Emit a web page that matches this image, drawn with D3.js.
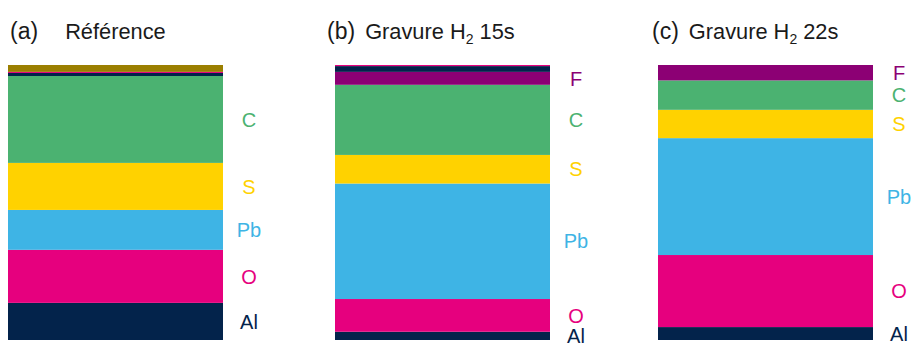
<!DOCTYPE html>
<html>
<head>
<meta charset="utf-8">
<script src="https://cdn.jsdelivr.net/npm/d3@7"></script>
<style>
  body { margin: 0; background: #fff; }
  text { font-family: "Liberation Sans", Arial, sans-serif; }
</style>
</head>
<body>
<div id="chart"></div>
<script>
// panels, bottom layer first (thickness in % of the stack)
var panels = ["(a)", "(b)", "(c)"];
var titleMain = ["Référence", "Gravure H", "Gravure H"];
var titleSub = ["", "2", "2"];
var titleTail = ["", " 15s", " 22s"];

var layersA = ["Al", "O", "Pb", "S", "C", "Al", "O", "X"];
var valuesA = [13.5, 19.3, 14.5, 17.1, 31.6, 1.1, 0.4, 2.5];
var labelsA = ["Al", "O", "Pb", "S", "C", "", "", ""];

var layersB = ["Al", "O", "Pb", "S", "C", "F", "Al", "O"];
var valuesB = [3.0, 11.9, 42.0, 10.4, 25.5, 4.7, 2.1, 0.4];
var labelsB = ["Al", "O", "Pb", "S", "C", "F", "", ""];

var layersC = ["Al", "O", "Pb", "S", "C", "F"];
var valuesC = [4.7, 26.2, 42.5, 10.3, 10.7, 5.6];
var labelsC = ["Al", "O", "Pb", "S", "C", "F"];

var colors = {
  C: "#4bb271",
  S: "#ffd200",
  Pb: "#3eb4e5",
  O: "#e6007e",
  Al: "#03234b",
  F: "#8c0074",
  X: "#9b7f00"
};

var width = 912, height = 343;
var barW = 215;

var svg = d3.select("#chart").append("svg")
  .attr("width", width)
  .attr("height", height);

var x = d3.scaleOrdinal()
  .domain(panels)
  .range([8, 335, 658]);

var y = d3.scaleLinear()
  .domain([0, 100])
  .range([340, 65]);

var stacks = [
  {layers: layersA, values: valuesA, labels: labelsA},
  {layers: layersB, values: valuesB, labels: labelsB},
  {layers: layersC, values: valuesC, labels: labelsC}
];
var titleX = [10, 327, 652];

stacks.forEach(function(s, p) {
  var top = d3.cumsum(s.values);
  var rows = s.layers.map(function(k, i) {
    return {key: k, y0: top[i] - s.values[i], y1: top[i], label: s.labels[i]};
  });

  var g = svg.append("g");
  var x0 = x(panels[p]);

  g.selectAll("rect")
    .data(rows)
    .enter().append("rect")
    .attr("x", x0)
    .attr("width", barW)
    .attr("y", function(d) { return y(d.y1); })
    .attr("height", function(d) { return y(d.y0) - y(d.y1); })
    .style("fill", function(d) { return colors[d.key]; });

  g.selectAll("text.lbl")
    .data(rows.filter(function(d) { return d.label; }))
    .enter().append("text")
    .attr("class", "lbl")
    .attr("x", x0 + barW + 26)
    .attr("y", function(d) { return y((d.y0 + d.y1) / 2); })
    .attr("dy", "0.36em")
    .attr("text-anchor", "middle")
    .style("font-size", "20px")
    .style("fill", function(d) { return colors[d.key]; })
    .text(function(d) { return d.label; });

  // title
  var t = svg.append("text")
    .attr("x", titleX[p])
    .attr("y", 39)
    .style("fill", "#1a1a1a");
  t.append("tspan").style("font-size", "23px").text(panels[p]);
  t.append("tspan")
    .attr("dx", p == 0 ? 27 : 10)
    .style("font-size", "21.8px")
    .text(titleMain[p]);
  if (titleSub[p]) {
    t.append("tspan")
      .attr("dy", 5)
      .style("font-size", "14px")
      .text(titleSub[p]);
    t.append("tspan")
      .attr("dy", -5)
      .style("font-size", "21.8px")
      .text(titleTail[p]);
  }
});
</script>
</body>
</html>
